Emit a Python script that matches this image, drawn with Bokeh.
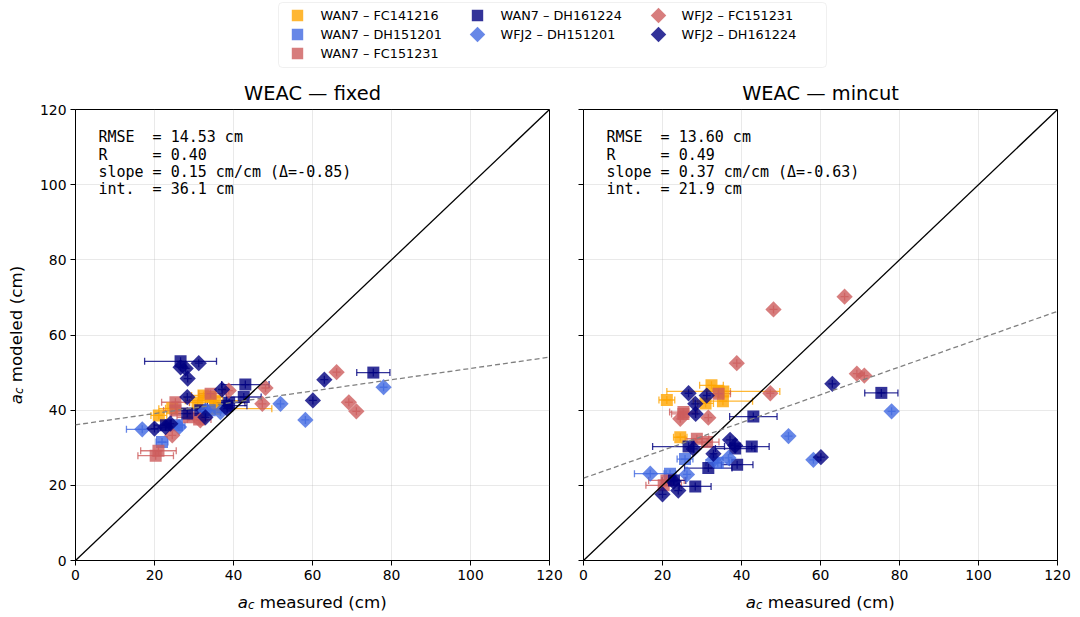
import math
from bokeh.plotting import figure
from bokeh.layouts import column, row
from bokeh.models import (ColumnDataSource, Whisker, TeeHead, Label, Range1d, FixedTicker, Slope,
                          BoxAnnotation, Spacer)
from bokeh.embed import file_html
from bokeh.resources import INLINE

# ---------------- data ----------------
series_names = ["WAN7 – FC141216", "WAN7 – DH151201", "WAN7 – FC151231", "WAN7 – DH161224",
                "WFJ2 – DH151201", "WFJ2 – FC151231", "WFJ2 – DH161224"]

wan7_fc141216_meas = [21.1, 24.5, 30.9, 32.4, 34.2, 35.4, 35.3]
wan7_fc141216_xerr = [2.0, 1.7, 2.0, 3.0, 3.0, 14.3, 7.5]
wan7_fc141216_fixed = [38.6, 40.5, 42.0, 43.9, 43.5, 40.4, 42.5]
wan7_fc141216_mincut = [42.7, 32.8, 41.8, 46.6, 45.0, 45.0, 42.4]

wan7_dh151201_meas = [21.9, 25.7, 34.0]
wan7_dh151201_xerr = [1.5, 2.0, 3.0]
wan7_dh151201_fixed = [31.5, 36.0, 40.0]
wan7_dh151201_mincut = [23.1, 27.0, 26.0]

wan7_fc151231_meas = [20.3, 21.0, 25.3, 25.3, 28.7, 31.3, 34.2]
wan7_fc151231_xerr = [4.5, 4.5, 3.5, 3.0, 3.0, 3.0, 3.0]
wan7_fc151231_fixed = [27.9, 29.2, 42.1, 39.9, 38.1, 37.5, 44.4]
wan7_fc151231_mincut = [20.0, 21.3, 39.5, 39.0, 32.4, 31.5, 44.4]

wan7_dh161224_meas = [22.9, 26.6, 28.3, 31.6, 38.4, 38.9, 42.6, 43.0, 75.4]
wan7_dh161224_xerr = [3.0, 9.1, 4.0, 6.0, 5.0, 4.0, 4.4, 6.0, 4.2]
wan7_dh161224_fixed = [36.0, 53.0, 39.1, 40.0, 41.2, 42.0, 43.5, 46.8, 50.0]
wan7_dh161224_mincut = [21.3, 30.3, 19.7, 24.6, 29.8, 25.5, 30.3, 38.3, 44.6]

wfj2_dh151201_meas = [16.9, 26.2, 32.9, 36.7, 51.9, 58.2, 78.0]
wfj2_dh151201_xerr = [4.0, 0, 0, 0, 0, 0, 0]
wfj2_dh151201_fixed = [34.9, 35.5, 39.9, 39.5, 41.7, 37.4, 46.1]
wfj2_dh151201_mincut = [23.1, 22.9, 26.8, 27.3, 33.1, 26.8, 39.7]

wfj2_fc151231_meas = [24.5, 31.6, 38.8, 47.3, 48.1, 66.1, 69.2, 71.1]
wfj2_fc151231_xerr = [0, 0, 0, 0, 0, 0, 0, 0]
wfj2_fc151231_fixed = [33.3, 37.3, 45.2, 41.7, 45.9, 50.1, 42.1, 39.7]
wfj2_fc151231_mincut = [37.7, 38.0, 52.5, 44.5, 66.8, 70.2, 49.7, 49.2]

wfj2_dh161224_meas = [20.0, 22.8, 24.0, 26.6, 27.9, 28.4, 28.3, 31.2, 32.9, 37.1, 38.4, 60.1, 63.0]
wfj2_dh161224_xerr = [0] * 13
wfj2_dh161224_fixed = [35.1, 35.5, 36.4, 51.4, 51.1, 48.4, 43.5, 52.5, 38.1, 45.5, 40.4, 42.6, 48.1]
wfj2_dh161224_mincut = [17.6, 21.0, 18.6, 44.5, 29.7, 39.0, 41.7, 43.9, 28.4, 32.1, 30.6, 27.5, 47.0]

stat_keys = ["RMSE", "R", "slope", "int."]
fixed_stats = ["= 14.53 cm", "= 0.40", "= 0.15 cm/cm (Δ=-0.85)", "= 36.1 cm"]
mincut_stats = ["= 13.60 cm", "= 0.49", "= 0.37 cm/cm (Δ=-0.63)", "= 21.9 cm"]
fixed_fit = (0.15, 36.1)
mincut_fit = (0.37, 21.9)
ticks = [0, 20, 40, 60, 80, 100, 120]

ORANGE, RBLUE, IRED, NAVY = "#FFA500", "#4169E1", "#CD5C5C", "#000080"
SQ, DI = "square", "diamond"

series = [
    (series_names[0], ORANGE, SQ, wan7_fc141216_meas, wan7_fc141216_xerr, wan7_fc141216_fixed, wan7_fc141216_mincut),
    (series_names[1], RBLUE, SQ, wan7_dh151201_meas, wan7_dh151201_xerr, wan7_dh151201_fixed, wan7_dh151201_mincut),
    (series_names[2], IRED, SQ, wan7_fc151231_meas, wan7_fc151231_xerr, wan7_fc151231_fixed, wan7_fc151231_mincut),
    (series_names[3], NAVY, SQ, wan7_dh161224_meas, wan7_dh161224_xerr, wan7_dh161224_fixed, wan7_dh161224_mincut),
    (series_names[4], RBLUE, DI, wfj2_dh151201_meas, wfj2_dh151201_xerr, wfj2_dh151201_fixed, wfj2_dh151201_mincut),
    (series_names[5], IRED, DI, wfj2_fc151231_meas, wfj2_fc151231_xerr, wfj2_fc151231_fixed, wfj2_fc151231_mincut),
    (series_names[6], NAVY, DI, wfj2_dh161224_meas, wfj2_dh161224_xerr, wfj2_dh161224_fixed, wfj2_dh161224_mincut),
]
# matplotlib-style column-major legend placement (3 rows)
legend_col = [0, 0, 0, 1, 1, 2, 2]
legend_row = [0, 1, 2, 0, 1, 0, 1]

FONT = "DejaVu Sans"
MONO = "DejaVu Sans Mono"
ALPHA = 0.8
TOTAL_W = 1072
FRAME_W, FRAME_H = 474, 451
TOP_B, BOT_B = 39, 28
LEG_H = 70
YLAB_W = 36


def marker_kw(shape, scale=1.0):
    if shape == SQ:
        return dict(marker="square", size=12 * scale, angle=0)
    return dict(marker="square", size=11.5 * scale, angle=math.pi / 4)


def blank_fig(**kw):
    f = figure(output_backend="svg", toolbar_location=None, **kw)
    f.axis.visible = False
    f.grid.visible = False
    f.outline_line_color = None
    return f


def make_panel(col, title_text, stats, fit, left, width, mbl, mbr):
    p = figure(width=width, height=TOP_B + FRAME_H + BOT_B, x_range=Range1d(0, 120), y_range=Range1d(0, 120),
               min_border_left=mbl, min_border_right=mbr, min_border_top=TOP_B, min_border_bottom=BOT_B,
               output_backend="svg", toolbar_location=None)
    p.title.text = title_text
    p.title.align = "center"
    p.title.text_font = FONT
    p.title.text_font_size = "19.4px"
    p.title.text_font_style = "normal"
    p.title.text_color = "black"
    p.xaxis.ticker = FixedTicker(ticks=ticks)
    p.yaxis.ticker = FixedTicker(ticks=ticks)
    for ax in (p.xaxis[0], p.yaxis[0]):
        ax.axis_line_color = "black"
        ax.axis_line_width = 1
        ax.major_tick_line_color = "black"
        ax.major_tick_out = 5
        ax.major_tick_in = 0
        ax.minor_tick_line_color = None
        ax.major_label_text_font = FONT
        ax.major_label_text_font_size = "13.9px"
        ax.major_label_text_color = "black"
        ax.major_label_standoff = 4
    if not left:
        p.yaxis.major_label_overrides = {t: "" for t in ticks}
    p.grid.grid_line_color = "#b0b0b0"
    p.grid.grid_line_alpha = 0.35
    p.grid.grid_line_width = 0.8
    p.outline_line_color = "black"
    p.outline_line_width = 1
    p.outline_line_alpha = 1

    # 1:1 line and regression fit
    p.add_layout(Slope(gradient=1, y_intercept=0, line_color="black", line_width=1.3))
    p.add_layout(Slope(gradient=fit[0], y_intercept=fit[1], line_color="gray", line_width=1.3,
                       line_dash="5 3"))

    for name, color, shape, meas, xerr, fixed, mincut in series:
        ys = fixed if col == "fixed" else mincut
        idx = [i for i, e in enumerate(xerr) if e > 0]
        if idx:
            src_e = ColumnDataSource(dict(
                base=[ys[i] for i in idx],
                lower=[meas[i] - xerr[i] for i in idx],
                upper=[meas[i] + xerr[i] for i in idx]))
            w = Whisker(source=src_e, base="base", lower="lower", upper="upper", dimension="width",
                        line_color=color, line_alpha=ALPHA, line_width=1.3,
                        upper_head=TeeHead(size=7, line_color=color, line_alpha=ALPHA, line_width=1.3),
                        lower_head=TeeHead(size=7, line_color=color, line_alpha=ALPHA, line_width=1.3))
            p.add_layout(w)
        src = ColumnDataSource(dict(x=meas, y=ys))
        p.scatter("x", "y", source=src, fill_color=color, fill_alpha=ALPHA, line_color=None,
                  **marker_kw(shape))
        p.scatter("x", "y", source=src, marker="cross", size=8, line_color=color, line_alpha=ALPHA,
                  line_width=1.3)

    # statistics block (monospace, '=' aligned at column 6)
    for i, (k, s) in enumerate(zip(stat_keys, stats)):
        y = 112.6 - i * 4.6
        p.add_layout(Label(x=5.8, y=y, text=k, text_font=MONO, text_font_size="15px",
                           text_color="black", text_align="left", text_baseline="middle"))
        p.add_layout(Label(x=5.8 + 13.72, y=y, text=s, text_font=MONO, text_font_size="15px",
                           text_color="black", text_align="left", text_baseline="middle"))
    return p


def add_xlabel(fig, word):
    fig.text(x=[41.07], y=[13.5], text=["a"], text_font={"value": FONT}, text_font_size="16.7px",
             text_font_style="italic", text_align="left", text_baseline="alphabetic", text_color="black")
    fig.text(x=[43.66], y=[16.7], text=["c"], text_font={"value": FONT}, text_font_size="11.7px",
             text_font_style="italic", text_align="left", text_baseline="alphabetic", text_color="black")
    fig.text(x=[46.62], y=[13.5], text=[word], text_font={"value": FONT}, text_font_size="16.7px",
             text_align="left", text_baseline="alphabetic", text_color="black")


p1 = make_panel("fixed", "WEAC — fixed", fixed_stats, fixed_fit, True, 39 + FRAME_W + 17, 39, 17)
p2 = make_panel("mincut", "WEAC — mincut", mincut_stats, mincut_fit, False, 17 + FRAME_W + 15, 17, 15)

# y label column
ylab = blank_fig(width=YLAB_W, height=TOP_B + FRAME_H + BOT_B, x_range=Range1d(0, YLAB_W),
                 y_range=p1.y_range, min_border_left=0, min_border_right=0,
                 min_border_top=TOP_B, min_border_bottom=BOT_B)
ylab.text(x=[15], y=[41.6], text=["a"], text_font={"value": FONT}, text_font_size="16.7px",
          text_font_style="italic", text_align="left", text_baseline="alphabetic", angle=math.pi / 2,
          text_color="black")
ylab.text(x=[18.2], y=[44.3], text=["c"], text_font={"value": FONT}, text_font_size="11.7px",
          text_font_style="italic", text_align="left", text_baseline="alphabetic", angle=math.pi / 2,
          text_color="black")
ylab.text(x=[15], y=[47.4], text=["modeled (cm)"], text_font={"value": FONT}, text_font_size="16.7px",
          text_align="left", text_baseline="alphabetic", angle=math.pi / 2, text_color="black")

# x label row
XL_H = 26
xl1 = blank_fig(width=p1.width, height=XL_H, x_range=p1.x_range, y_range=Range1d(XL_H, 0),
                min_border_left=39, min_border_right=17, min_border_top=0, min_border_bottom=0)
xl2 = blank_fig(width=p2.width, height=XL_H, x_range=p2.x_range, y_range=Range1d(XL_H, 0),
                min_border_left=17, min_border_right=15, min_border_top=0, min_border_bottom=0)
add_xlabel(xl1, "measured (cm)")
add_xlabel(xl2, "measured (cm)")

# ---------------- legend figure ----------------
lf = blank_fig(width=TOTAL_W, height=LEG_H, x_range=Range1d(0, TOTAL_W), y_range=Range1d(LEG_H, 0),
               min_border=0)
lf.add_layout(BoxAnnotation(left=278, right=826, top=2, bottom=67, fill_color="white", fill_alpha=0,
                            line_color="#cccccc", line_width=1, border_radius=4, level="underlay"))
col_x = [297, 477, 658]
row_y = [15, 34, 53]
for k, (name, color, shape, meas, xerr, fixed, mincut) in enumerate(series):
    mx = col_x[legend_col[k]]
    my = row_y[legend_row[k]]
    lf.scatter([mx], [my], fill_color=color, fill_alpha=ALPHA, line_color=None, **marker_kw(shape, 0.95))
    lf.text(x=[mx + 23], y=[my], text=[name], text_font={"value": FONT}, text_font_size="12.8px",
            text_align="left", text_baseline="middle", text_color="black")

layout = column(lf, row(ylab, p1, p2), row(Spacer(width=YLAB_W, height=XL_H), xl1, xl2))
open("out.html", "w").write(file_html(layout, INLINE))
